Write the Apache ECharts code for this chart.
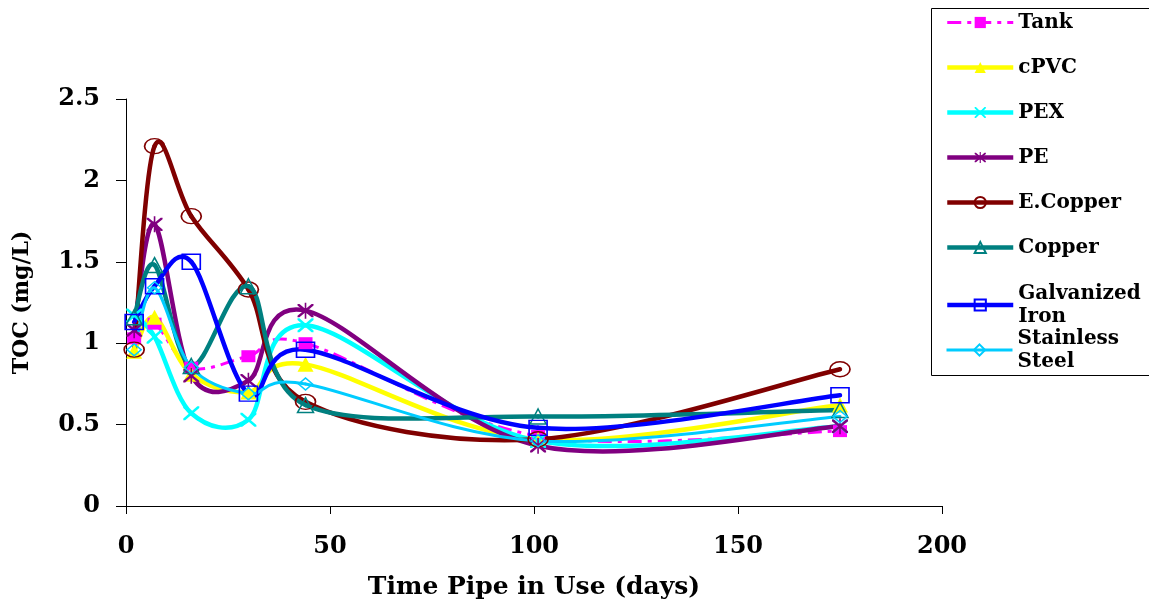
<!DOCTYPE html>
<html><head><meta charset="utf-8">
<script src="https://cdn.jsdelivr.net/npm/echarts@6/dist/echarts.min.js"></script>
<style>html,body{margin:0;padding:0;background:#fff}#c{width:1149px;height:605px}</style>
</head><body><div id="c"></div>
<script>
const days = [2, 7, 16, 30, 44, 101, 175];
const tank = [1.03, 1.12, 0.85, 0.92, 1.00, 0.43, 0.46];
const cpvc = [0.95, 1.16, 0.81, 0.70, 0.87, 0.41, 0.62];
const pex = [1.17, 1.04, 0.57, 0.53, 1.11, 0.40, 0.49];
const pe = [1.08, 1.73, 0.80, 0.77, 1.20, 0.37, 0.49];
const eCopper = [0.96, 2.21, 1.78, 1.33, 0.64, 0.41, 0.84];
const copper = [1.16, 1.48, 0.86, 1.35, 0.62, 0.55, 0.59];
const galvanized = [1.13, 1.35, 1.50, 0.69, 0.96, 0.48, 0.68];
const stainless = [0.96, 1.34, 0.85, 0.69, 0.75, 0.40, 0.55];
const yTicks = ['0', '0.5', '1', '1.5', '2', '2.5'];
const xTicks = ['0', '50', '100', '150', '200'];

const FONT = 'DejaVu Serif';
const X_PATH = 'path://M0,0 L1.2,0 L5,3.8 L8.8,0 L10,0 L10,1.2 L6.2,5 L10,8.8 L10,10 L8.8,10 L5,6.2 L1.2,10 L0,10 L0,8.8 L3.8,5 L0,1.2 Z';
const STAR_PATH = 'path://M0,0 L1.2,0 L5,3.8 L8.8,0 L10,0 L10,1.2 L6.2,5 L10,8.8 L10,10 L8.8,10 L5,6.2 L1.2,10 L0,10 L0,8.8 L3.8,5 L0,1.2 Z M4.5,-1 L5.5,-1 L5.5,11 L4.5,11 Z';

function pts(arr) { return days.map((d, i) => [d, arr[i]]); }

// Smooth curve (Excel-like Bezier spline) drawn through the chart's own coordinate system
function curve(name, vals, color, width, dash) {
  return {
    type: 'custom', name: name + ' curve', coordinateSystem: 'cartesian2d',
    data: pts(vals), encode: { x: 0, y: 1 }, silent: true, z: 2, clip: false,
    renderItem: function (params, api) {
      const i = params.dataIndex;
      if (i >= days.length - 1) return null;
      const P = days.map((d, k) => api.coord([d, vals[k]]));
      const tan = function (k) {
        const a = P[Math.max(k - 1, 0)], b = P[Math.min(k + 1, P.length - 1)];
        return [(b[0] - a[0]) / 6, (b[1] - a[1]) / 6];
      };
      const t0 = tan(i), t1 = tan(i + 1);
      return {
        type: 'bezierCurve',
        shape: {
          x1: P[i][0], y1: P[i][1],
          cpx1: P[i][0] + t0[0], cpy1: P[i][1] + t0[1],
          cpx2: P[i + 1][0] - t1[0], cpy2: P[i + 1][1] - t1[1],
          x2: P[i + 1][0], y2: P[i + 1][1]
        },
        style: { stroke: color, lineWidth: width, fill: null, lineDash: dash || null, lineCap: dash ? 'butt' : 'round' }
      };
    }
  };
}

function marks(name, data, color, symbol, size, filled) {
  return {
    name: name, type: 'line', data: pts(data), smooth: false,
    symbol: symbol, symbolSize: size, showSymbol: true,
    lineStyle: { color: color, width: 0, opacity: 0 },
    itemStyle: filled ? { color: color, borderColor: color, borderWidth: 0 }
                      : { color: 'rgba(255,255,255,0)', borderColor: color, borderWidth: 1.5 },
    emphasis: { disabled: true }, z: 3
  };
}

const defs = [
  ['Tank', tank, '#FF00FF', 'rect', [14, 12], true, 3, [14, 6, 4, 6]],
  ['cPVC', cpvc, '#FFFF00', 'triangle', [16, 15], true, 4.5, null],
  ['PEX', pex, '#00FFFF', X_PATH, [16, 14], true, 4.5, null],
  ['PE', pe, '#800080', STAR_PATH, [16, 16], true, 4.5, null],
  ['E.Copper', eCopper, '#800000', 'circle', [20, 15], false, 4.5, null],
  ['Copper', copper, '#008080', 'triangle', [16, 15], false, 4.5, null],
  ['Galvanized Iron', galvanized, '#0000FF', 'rect', [18, 15], false, 4.5, null],
  ['Stainless Steel', stainless, '#00CCFF', 'diamond', [14, 12], false, 3, null]
];

const series = [];
defs.forEach(function (d) {
  series.push(curve(d[0], d[1], d[2], d[6], d[7]));
  series.push(marks(d[0], d[1], d[2], d[3], d[4], d[5]));
});

function legendItem(d) {
  return { name: d[0], lineStyle: { color: d[2], width: d[6], opacity: 1, type: d[7] || 'solid' } };
}

const legendText = { fontFamily: FONT, fontWeight: 'bold', fontSize: 20, color: '#000', lineHeight: 23 };
const legendBase = {
  orient: 'vertical', left: 945, itemWidth: 66, itemHeight: 14, itemGap: 22,
  textStyle: legendText, padding: 0, selectedMode: false,
  formatter: function (n) { return n.replace(' ', '\n'); }
};

const chart = echarts.init(document.getElementById('c'), null, { renderer: 'canvas' });
chart.setOption({
  animation: false,
  backgroundColor: '#fff',
  grid: { left: 126, right: 207, top: 99, bottom: 98, containLabel: false },
  xAxis: {
    type: 'value', min: 0, max: 200, interval: 50,
    name: 'Time Pipe in Use (days)', nameLocation: 'middle', nameGap: 69,
    nameTextStyle: { fontFamily: FONT, fontWeight: 'bold', fontSize: 25, color: '#000' },
    axisLine: { show: true, lineStyle: { color: '#000', width: 1 } },
    axisTick: { show: true, inside: false, length: 8, lineStyle: { color: '#000' } },
    axisLabel: { fontFamily: FONT, fontWeight: 'bold', fontSize: 24, color: '#000', margin: 29,
      formatter: function (v) { return xTicks[Math.round(v / 50)]; } },
    splitLine: { show: false }
  },
  yAxis: {
    type: 'value', min: 0, max: 2.5, interval: 0.5,
    name: 'TOC (mg/L)', nameLocation: 'middle', nameGap: 93, nameRotate: 90,
    nameTextStyle: { fontFamily: FONT, fontWeight: 'bold', fontSize: 22, color: '#000' },
    axisLine: { show: true, lineStyle: { color: '#000', width: 1 } },
    axisTick: { show: true, inside: false, length: 10, lineStyle: { color: '#000' } },
    axisLabel: { fontFamily: FONT, fontWeight: 'bold', fontSize: 24, color: '#000', margin: 26,
      formatter: function (v) { return yTicks[Math.round(v / 0.5)]; } },
    splitLine: { show: false }
  },
  legend: [
    Object.assign({}, legendBase, { top: 11, data: defs.slice(0, 6).map(legendItem) }),
    Object.assign({}, legendBase, { top: 282, data: [legendItem(defs[6])] }),
    Object.assign({}, legendBase, { top: 327, data: [legendItem(defs[7])] })
  ],
  graphic: [{ type: 'rect', left: 931, top: 8, shape: { width: 240, height: 367 },
    style: { fill: 'rgba(0,0,0,0)', stroke: '#000', lineWidth: 1 }, z: -1 }],
  series: series
});
</script></body></html>
